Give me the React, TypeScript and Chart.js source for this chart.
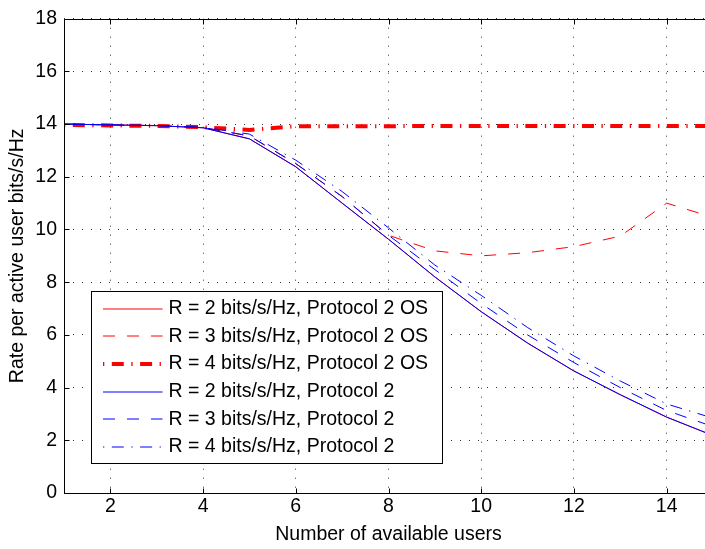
import React, { useEffect, useRef } from 'react';
import { Chart, registerables } from 'chart.js';

Chart.register(...registerables);

// ---- Data ----
const xUsers = [1, 2, 3, 4, 5, 6, 7, 8, 9, 10, 11, 12, 13, 14, 15];
const xTicks = [2, 4, 6, 8, 10, 12, 14];
const yTicks = [0, 2, 4, 6, 8, 10, 12, 14, 16, 18];

// Protocol 2 OS
const osR2 = [14.0, 13.97, 13.94, 13.86, 13.44, 12.38, 11.0, 9.63, 8.2, 6.88, 5.69, 4.63, 3.73, 2.88, 2.18];
const osR3 = [14.0, 13.97, 13.94, 13.87, 13.55, 12.5, 11.25, 9.78, 9.19, 9.0, 9.12, 9.35, 9.75, 11.0, 10.46];
const osR4 = [13.97, 13.95, 13.93, 13.88, 13.78, 13.92, 13.92, 13.92, 13.93, 13.93, 13.93, 13.93, 13.93, 13.93, 13.93];
// Protocol 2
const p2R2 = [14.0, 13.97, 13.94, 13.86, 13.44, 12.38, 11.0, 9.63, 8.2, 6.88, 5.69, 4.63, 3.73, 2.88, 2.18];
const p2R3 = [14.0, 13.97, 13.94, 13.87, 13.55, 12.5, 11.25, 9.78, 8.48, 7.19, 6.0, 4.95, 4.0, 3.13, 2.52];
const p2R4 = [14.0, 13.97, 13.95, 13.88, 13.62, 12.63, 11.44, 10.06, 8.65, 7.5, 6.28, 5.2, 4.25, 3.38, 2.84];

const legendLabels = [
  'R = 2 bits/s/Hz, Protocol 2 OS',
  'R = 3 bits/s/Hz, Protocol 2 OS',
  'R = 4 bits/s/Hz, Protocol 2 OS',
  'R = 2 bits/s/Hz, Protocol 2',
  'R = 3 bits/s/Hz, Protocol 2',
  'R = 4 bits/s/Hz, Protocol 2',
];

const xTitle = 'Number of available users';
const yTitle = 'Rate per active user bits/s/Hz';

// ---- Styles ----
const FONT = '"Liberation Sans", Arial, Helvetica, sans-serif';
const FONT_SIZE = 19.5;
const RED = '#ff0000';
const BLUE = '#0000ff';
const SOLID: number[] = [];
const DASH = [12, 12];
const DASHDOT = [1.3, 7.5, 12, 7.5];

type Style = { color: string; width: number; dash: number[] };
const legendStyles: Style[] = [
  { color: RED, width: 1, dash: SOLID },
  { color: RED, width: 1, dash: DASH },
  { color: RED, width: 4, dash: DASHDOT },
  { color: BLUE, width: 1, dash: SOLID },
  { color: BLUE, width: 1, dash: DASH },
  { color: BLUE, width: 1, dash: DASHDOT },
];

const seriesValues = [osR2, osR3, osR4, p2R2, p2R3, p2R4];

const matlabAxes = {
  id: 'matlabAxes',
  afterDraw(chart: any) {
    const { ctx, chartArea: a, scales } = chart;
    const xs = scales.x;
    const ys = scales.y;
    ctx.save();
    ctx.strokeStyle = '#000';
    ctx.lineWidth = 1;
    ctx.setLineDash([]);
    const L = Math.round(a.left) + 0.5;
    const T = Math.round(a.top) + 0.5;
    const B = Math.round(a.bottom) + 0.5;
    const R = Math.round(a.right) + 0.5;
    ctx.beginPath();
    ctx.moveTo(L, T);
    ctx.lineTo(R, T);
    ctx.lineTo(R, B);
    ctx.lineTo(L, B);
    ctx.closePath();
    const tl = 5;
    xTicks.forEach((v) => {
      const px = Math.round(xs.getPixelForValue(v)) + 0.5;
      ctx.moveTo(px, B);
      ctx.lineTo(px, B - tl);
      ctx.moveTo(px, T);
      ctx.lineTo(px, T + tl);
    });
    yTicks.forEach((v) => {
      const py = Math.round(ys.getPixelForValue(v)) + 0.5;
      ctx.moveTo(L, py);
      ctx.lineTo(L + tl, py);
      ctx.moveTo(R, py);
      ctx.lineTo(R - tl, py);
    });
    ctx.stroke();

    // Legend box (inside the axes, lower-left)
    const bx = Math.round(a.left + 27) + 0.5;
    const bw = 351;
    const bh = 172;
    const by = Math.round(a.bottom - 30 - bh) + 0.5;
    ctx.fillStyle = '#fff';
    ctx.fillRect(bx, by, bw, bh);
    ctx.strokeStyle = '#000';
    ctx.lineWidth = 1;
    ctx.strokeRect(bx, by, bw, bh);
    const rowH = 27.67;
    ctx.font = `${FONT_SIZE}px ${FONT}`;
    ctx.textBaseline = 'middle';
    ctx.textAlign = 'left';
    legendLabels.forEach((label, i) => {
      const st = legendStyles[i];
      const cy = by + 17 + i * rowH;
      const lineY = Math.round(cy);
      ctx.save();
      ctx.strokeStyle = st.color;
      ctx.lineWidth = st.width;
      ctx.setLineDash(st.dash);
      ctx.lineCap = 'butt';
      ctx.beginPath();
      ctx.moveTo(bx + 11.5, lineY);
      ctx.lineTo(bx + 71, lineY);
      ctx.stroke();
      ctx.restore();
      ctx.fillStyle = '#000';
      ctx.fillText(label, bx + 77, cy);
    });
    ctx.restore();
  },
};

export default function App() {
  const ref = useRef<HTMLCanvasElement>(null);

  useEffect(() => {
    document.body.style.margin = '0';
    document.body.style.overflow = 'hidden';
    if (!ref.current) return;

    // datasets: blue first so they are drawn on top of red
    const order = [3, 4, 5, 0, 1, 2];
    const datasets = order.map((i) => ({
      label: legendLabels[i],
      data: xUsers.map((x, k) => ({ x, y: seriesValues[i][k] })),
      borderColor: legendStyles[i].color,
      backgroundColor: legendStyles[i].color,
      borderWidth: legendStyles[i].width,
      borderDash: legendStyles[i].dash,
      borderCapStyle: 'butt' as const,
      pointRadius: 0,
      tension: 0,
      fill: false,
    }));

    const chart = new Chart(ref.current, {
      type: 'line',
      data: { datasets },
      options: {
        animation: false,
        responsive: false,
        devicePixelRatio: 1,
        layout: { padding: { top: 13, left: 0, right: 7, bottom: 0 } },
        plugins: {
          legend: { display: false },
          tooltip: { enabled: false },
        },
        scales: {
          x: {
            type: 'linear',
            min: 1,
            max: 15,
            afterBuildTicks: (s: any) => {
              s.ticks = xTicks.map((value) => ({ value }));
            },
            afterFit: (s: any) => {
              s.height = 56;
            },
            ticks: {
              color: '#000',
              font: { family: FONT, size: FONT_SIZE },
              padding: 2,
              maxRotation: 0,
              autoSkip: false,
            },
            grid: { color: 'rgba(0,0,0,0.8)', lineWidth: 1, drawTicks: false },
            border: { display: false, dash: [1, 8] },
            title: {
              display: true,
              text: xTitle,
              color: '#000',
              font: { family: FONT, size: FONT_SIZE },
              padding: { top: 0, bottom: 2.3 },
            },
          },
          y: {
            type: 'linear',
            min: 0,
            max: 18,
            afterBuildTicks: (s: any) => {
              s.ticks = yTicks.map((value) => ({ value }));
            },
            afterFit: (s: any) => {
              s.width = 64;
            },
            ticks: {
              color: '#000',
              font: { family: FONT, size: FONT_SIZE },
              padding: 7,
            },
            grid: { color: 'rgba(0,0,0,0.8)', lineWidth: 1, drawTicks: false },
            border: { display: false, dash: [1, 8] },
            title: {
              display: true,
              text: yTitle,
              color: '#000',
              font: { family: FONT, size: FONT_SIZE },
              padding: { top: 5.5, bottom: 0 },
            },
          },
        },
      },
      plugins: [matlabAxes],
    });

    return () => chart.destroy();
  }, []);

  return (
    <div style={{ width: 720, height: 549, background: '#fff' }}>
      <canvas ref={ref} width={720} height={549} style={{ display: 'block' }} />
    </div>
  );
}
